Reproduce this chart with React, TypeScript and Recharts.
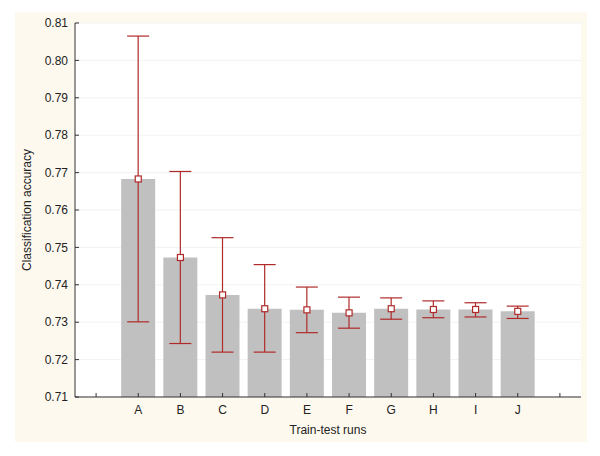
import React from 'react';
import {
  ComposedChart, Bar, Line, XAxis, YAxis, CartesianGrid, ErrorBar, Label,
} from 'recharts';

const runs = ['A', 'B', 'C', 'D', 'E', 'F', 'G', 'H', 'I', 'J'];
const means = [0.7683, 0.7473, 0.7373, 0.7336, 0.7333, 0.7325, 0.7336, 0.7334, 0.7334, 0.7329];
const upper = [0.8065, 0.7703, 0.7526, 0.7454, 0.7394, 0.7367, 0.7365, 0.7357, 0.7352, 0.7343];
const lower = [0.7301, 0.7243, 0.7220, 0.7220, 0.7272, 0.7284, 0.7308, 0.7312, 0.7314, 0.7310];
const yTicks = [0.71, 0.72, 0.73, 0.74, 0.75, 0.76, 0.77, 0.78, 0.79, 0.8, 0.81];

const RED = '#b02a2a';
const AXIS = '#333';
const FONT = '"Liberation Sans", Arial, sans-serif';

// empty slot on each side, like the original
const table = [
  { run: '', mean: null, err: null },
  ...runs.map((r, i) => ({
    run: r,
    mean: means[i],
    err: [means[i] - lower[i], upper[i] - means[i]],
  })),
  { run: ' ', mean: null, err: null },
];

const tickStyle = { fill: '#222', fontSize: 12, fontFamily: FONT };

function SquareDot(props: any) {
  const { cx, cy, payload, index } = props;
  if (payload == null || payload.mean == null || cy == null) return <g key={index} />;
  return <rect key={index} x={cx - 3} y={cy - 3} width={6} height={6} fill="#fff" stroke={RED} strokeWidth={1.2} />;
}

export default function App() {
  return (
    <div style={{ position: 'relative', width: 600, height: 456, margin: -8, background: '#fff' }}>
      <div style={{ position: 'absolute', left: 15, top: 12, width: 572, height: 430, background: '#fdf9ef' }} />
      <div style={{ position: 'absolute', left: 0, top: 0 }}>
        <ComposedChart width={600} height={456} data={table} margin={{ top: 23, right: 19, left: 0, bottom: 14 }} barCategoryGap="9.5%">
          <CartesianGrid horizontal vertical={false} stroke="#f2f2f2" fill="#fff" />
          <XAxis
            dataKey="run"
            height={45}
            stroke={AXIS}
            tickSize={-4}
            tickMargin={12}
            tick={tickStyle}
            interval={0}
          >
            <Label value="Train-test runs" position="insideBottom" offset={8} style={{ fill: '#222', fontSize: 12, fontFamily: FONT }} />
          </XAxis>
          <XAxis
            xAxisId="top"
            dataKey="run"
            orientation="top"
            height={0}
            stroke={AXIS}
            tickSize={-4}
            tickFormatter={() => ''}
            interval={0}
          />
          <YAxis
            type="number"
            domain={[0.71, 0.81]}
            ticks={yTicks}
            width={75}
            stroke={AXIS}
            tickSize={-4}
            tickMargin={11}
            tick={tickStyle}
            tickFormatter={(v: number) => v.toFixed(2)}
            allowDataOverflow
          >
            <Label
              value="Classification accuracy"
              angle={-90}
              position="insideLeft"
              offset={27}
              style={{ fill: '#222', fontSize: 12, fontFamily: FONT, textAnchor: 'middle' }}
            />
          </YAxis>
          <YAxis
            yAxisId="right"
            orientation="right"
            type="number"
            domain={[0.71, 0.81]}
            ticks={yTicks}
            width={0}
            stroke={AXIS}
            tickSize={-4}
            tickFormatter={() => ''}
            allowDataOverflow
          />
          <Bar dataKey="mean" fill="#c0c0c0" isAnimationActive={false}>
            <ErrorBar dataKey="err" direction="y" width={11} stroke={RED} strokeWidth={1.2} />
          </Bar>
          <Line dataKey="mean" stroke="none" dot={SquareDot} activeDot={false} isAnimationActive={false} />
        </ComposedChart>
      </div>
    </div>
  );
}
